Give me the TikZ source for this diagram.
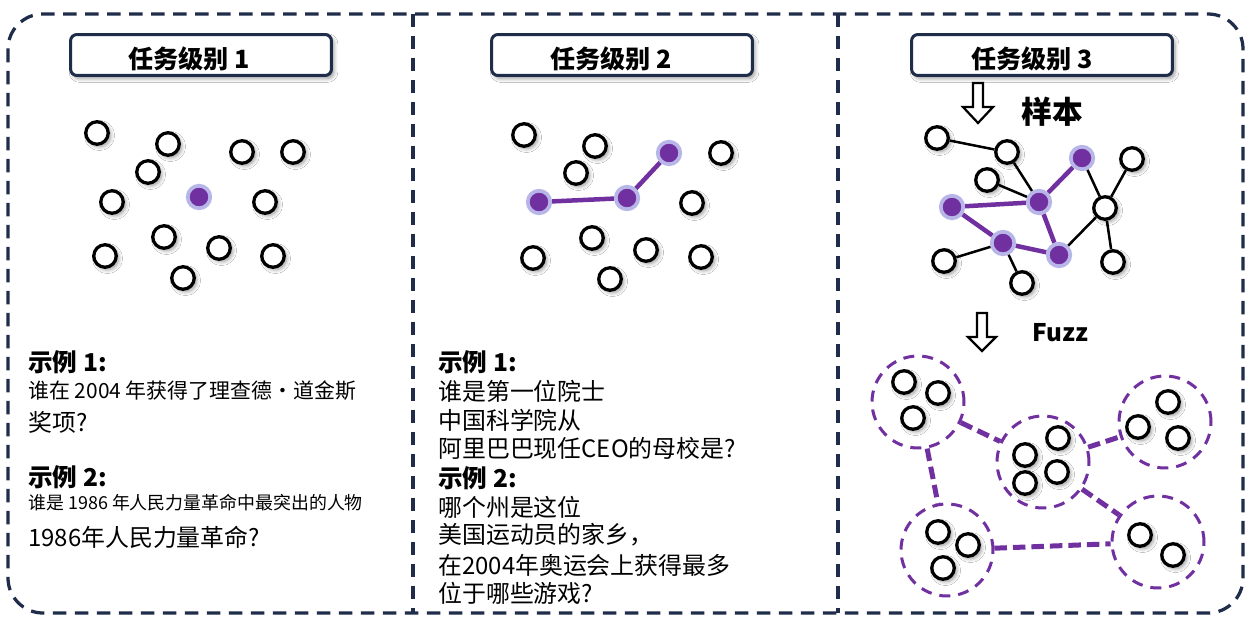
\documentclass[tikz,border=0pt]{standalone}
\usepackage{fontspec}
\setmainfont{Noto Sans CJK SC}
\usetikzlibrary{shadows,shadows.blur}
\definecolor{navy}{HTML}{1F2D4A}
\definecolor{purp}{HTML}{7030A0}
\definecolor{lav}{HTML}{B8B6E8}
\tikzset{
  wn/.style={circle,draw=black,fill=white,line width=0.065cm,minimum size=0.45cm,inner sep=0pt,
    blur shadow={shadow xshift=0.05cm,shadow yshift=-0.05cm,shadow blur steps=6,shadow opacity=40}},
  pn/.style={circle,draw=lav,fill=purp,line width=0.075cm,minimum size=0.45cm,inner sep=0pt},
  pedge/.style={draw=purp,line width=0.09cm},
  bedge/.style={draw=black,line width=0.05cm},
  cluster/.style={circle,draw=purp,dash pattern=on 0.22cm off 0.16cm,line width=0.06cm,minimum size=1.84cm,inner sep=0pt},
  cedge/.style={draw=purp,line width=0.1cm,dash pattern=on 0.25cm off 0.12cm},
  titlebox/.style={draw=navy,line width=0.06cm,rounded corners=0.13cm,fill=white,minimum width=5.22cm,minimum height=0.82cm,inner sep=0pt,
    blur shadow={shadow xshift=0.05cm,shadow yshift=-0.06cm,shadow blur steps=6,shadow opacity=40}},
  titletext/.style={font=\bfseries\fontsize{14.3}{16}\selectfont,inner sep=0pt},
  head/.style={anchor=west,inner sep=0pt,font=\bfseries\fontsize{14}{16}\selectfont},
  body/.style={anchor=west,inner sep=0pt,font=\fontsize{13.6}{16}\selectfont},
  hollow/.style={draw=black,line width=0.045cm,fill=white,line join=miter},
  frame/.style={draw=navy,line width=0.065cm,dash pattern=on 0.27cm off 0.17cm}
}
\begin{document}
\begin{tikzpicture}[x=0.02cm,y=-0.02cm]
\useasboundingbox[fill=white] (0,0) rectangle (1250,625);
% outer frame and dividers
\draw[frame,rounded corners=0.7cm] (8,14) rectangle (1243,613);
\draw[frame] (413,14) -- (413,613);
\draw[frame] (838,14) -- (838,613);
% title boxes
\node[titlebox] (tb1) at (201,55) {};
\node[titlebox] (tb2) at (622,55) {};
\node[titlebox] (tb3) at (1042,55) {};
\node[titletext] (tt1) at (189,59) {任务级别 1};
\node[titletext] (tt2) at (611,59) {任务级别 2};
\node[titletext] (tt3) at (1032,59) {任务级别 3};
% panel 1 nodes
\node[wn] (a1) at (97,133) {};
\node[wn] (a2) at (168,144) {};
\node[wn] (a3) at (242,152) {};
\node[wn] (a4) at (293,152) {};
\node[wn] (a5) at (148,172) {};
\node[wn] (a6) at (112,202) {};
\node[pn] (ap) at (199,197) {};
\node[wn] (a7) at (265,202) {};
\node[wn] (a8) at (164,237) {};
\node[wn] (a9) at (105,256) {};
\node[wn] (a10) at (219,248) {};
\node[wn] (a11) at (273,256) {};
\node[wn] (a12) at (183,278) {};
% panel 2 nodes
\node[wn] (b1) at (524,135) {};
\node[wn] (b2) at (595,146) {};
\node[pn] (bp3) at (669,153) {};
\node[wn] (b4) at (721,153) {};
\node[wn] (b5) at (576,173) {};
\node[pn] (bp1) at (539,202) {};
\node[pn] (bp2) at (627,198) {};
\node[wn] (b6) at (692,203) {};
\node[wn] (b7) at (592,238) {};
\node[wn] (b8) at (533,258) {};
\node[wn] (b9) at (646,250) {};
\node[wn] (b10) at (701,257) {};
\node[wn] (b11) at (610,279) {};
\draw[pedge] (bp1) -- (bp2) -- (bp3);
% panel 3: sample arrow
\draw[hollow] (973,83) -- (983,83) -- (983,107) -- (993,107) -- (978,123) -- (963,107) -- (973,107) -- cycle;
\node[inner sep=0pt,font=\bfseries\fontsize{17.5}{20}\selectfont] (yb) at (1052,112) {样本};
% panel 3 graph
\node[wn] (gA) at (937,138) {};
\node[wn] (gB) at (1007,152) {};
\node[pn] (gC) at (1082,158) {};
\node[wn] (gD) at (1132,159) {};
\node[wn] (gE) at (987,180) {};
\node[pn] (gF) at (1039,202) {};
\node[pn] (gG) at (952,207) {};
\node[wn] (gH) at (1105,208) {};
\node[pn] (gI) at (1003,243) {};
\node[pn] (gJ) at (1059,255) {};
\node[wn] (gK) at (944,261) {};
\node[wn] (gL) at (1113,262) {};
\node[wn] (gM) at (1022,283) {};
\draw[bedge] (gA) -- (gB);
\draw[bedge] (gB) -- (gF);
\draw[bedge] (gE) -- (gF);
\draw[bedge] (gC) -- (gH);
\draw[bedge] (gD) -- (gH);
\draw[bedge] (gH) -- (gJ);
\draw[bedge] (gH) -- (gL);
\draw[bedge] (gI) -- (gK);
\draw[bedge] (gI) -- (gM);
\draw[pedge] (gG) -- (gF);
\draw[pedge] (gF) -- (gC);
\draw[pedge] (gG) -- (gI);
\draw[pedge] (gI) -- (gJ);
\draw[pedge] (gF) -- (gJ);
% fuzz arrow
\draw[hollow] (977,313) -- (987,313) -- (987,337) -- (996,337) -- (982,351) -- (968,337) -- (977,337) -- cycle;
\node[inner sep=0pt,font=\bfseries\fontsize{13.8}{16}\selectfont] (fz) at (1060,333) {Fuzz};
% clusters
\node[cluster] (c1) at (918,402) {};
\node[cluster] (c2) at (1043,462) {};
\node[cluster] (c3) at (1165,422) {};
\node[cluster] (c4) at (947,550) {};
\node[cluster] (c5) at (1158,542) {};
\node[wn] (c1a) at (904,382) {};
\node[wn] (c1b) at (938,393) {};
\node[wn] (c1c) at (913,418) {};
\node[wn] (c2a) at (1058,438) {};
\node[wn] (c2b) at (1025,455) {};
\node[wn] (c2c) at (1057,472) {};
\node[wn] (c2d) at (1025,483) {};
\node[wn] (c3a) at (1168,402) {};
\node[wn] (c3b) at (1138,427) {};
\node[wn] (c3c) at (1178,438) {};
\node[wn] (c4a) at (938,532) {};
\node[wn] (c4b) at (968,545) {};
\node[wn] (c4c) at (943,568) {};
\node[wn] (c5a) at (1140,535) {};
\node[wn] (c5b) at (1173,555) {};
\draw[cedge] (c1) -- (c2);
\draw[cedge] (c1) -- (c4);
\draw[cedge] (c2) -- (c3);
\draw[cedge] (c2) -- (c5);
\draw[cedge] (c4) -- (c5);
% panel 1 text
\node[head] (p1h1) at (28,362) {示例 1:};
\node[body,font=\fontsize{11.9}{14}\selectfont] (p1l1) at (28,391) {谁在 2004 年获得了理查德・道金斯};
\node[body] (p1l2) at (28,422) {奖项?};
\node[head] (p1h2) at (28,477) {示例 2:};
\node[body,font=\fontsize{10.2}{12}\selectfont] (p1l3) at (28,503) {谁是 1986 年人民力量革命中最突出的人物};
\node[body] (p1l4) at (28,537) {1986年人民力量革命?};
% panel 2 text
\node[head] (p2h1) at (438,362) {示例 1:};
\node[body] (p2l1) at (438,391) {谁是第一位院士};
\node[body] (p2l2) at (438,420) {中国科学院从};
\node[body] (p2l3) at (438,448) {阿里巴巴现任CEO的母校是?};
\node[head] (p2h2) at (438,478) {示例 2:};
\node[body] (p2l4) at (438,507) {哪个州是这位};
\node[body] (p2l5) at (438,535) {美国运动员的家乡，};
\node[body] (p2l6) at (438,565) {在2004年奥运会上获得最多};
\node[body] (p2l7) at (438,593) {位于哪些游戏?};
\end{tikzpicture}
\end{document}
